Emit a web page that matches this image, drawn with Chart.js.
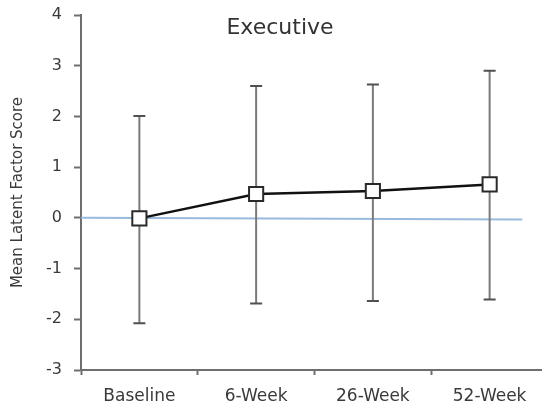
<!DOCTYPE html>
<html>
<head>
<meta charset="utf-8">
<title>Executive</title>
<script src="https://cdn.jsdelivr.net/npm/chart.js@4"></script>
<style>
  html, body { margin: 0; padding: 0; background: #ffffff; overflow: hidden; }
  #wrap { width: 560px; height: 407px; }
</style>
</head>
<body>
<div id="wrap"><canvas id="chart" width="560" height="407"></canvas></div>
<script>
// Assessment time points
const categories = ['Baseline', '6-Week', '26-Week', '52-Week'];
// Mean latent factor score at each time point
const means = [-0.01, 0.47, 0.53, 0.66];
// Upper and lower ends of the error bars
const upper = [2.01, 2.60, 2.63, 2.90];
const lower = [-2.08, -1.69, -1.64, -1.61];
// Zero reference line (x in category units on the helper axis)
const refX = [-0.5, 3.28];
const refY = [0, -0.03];
// Y axis range
const yMin = -3;
const yMax = 4;

const FONT = "'DejaVu Sans', Verdana, sans-serif";
const AXIS_GREY = '#6e6e6e';

// Error bars drawn right after the reference line so the series sits on top
const errorBars = {
  id: 'errorBars',
  afterDatasetDraw(chart, args) {
    if (args.index !== 1) return;
    const x = chart.scales.x, y = chart.scales.y;
    const ctx = chart.ctx;
    ctx.save();
    ctx.lineCap = 'butt';
    for (let i = 0; i < categories.length; i++) {
      const px = x.getPixelForValue(i);
      const top = y.getPixelForValue(upper[i]);
      const bot = y.getPixelForValue(lower[i]);
      ctx.strokeStyle = '#7a7a7a';
      ctx.lineWidth = 2;
      ctx.beginPath();
      ctx.moveTo(px, top);
      ctx.lineTo(px, bot);
      ctx.stroke();
      ctx.strokeStyle = '#505050';
      ctx.lineWidth = 2;
      ctx.beginPath();
      ctx.moveTo(px - 6, top);
      ctx.lineTo(px + 6, top);
      ctx.moveTo(px - 6, bot);
      ctx.lineTo(px + 6, bot);
      ctx.stroke();
    }
    ctx.restore();
  }
};

// Panel heading inside the plot area
const panelTitle = {
  id: 'panelTitle',
  afterDraw(chart) {
    const ctx = chart.ctx;
    ctx.save();
    ctx.font = "22px " + FONT;
    ctx.fillStyle = '#333333';
    ctx.textAlign = 'center';
    ctx.textBaseline = 'middle';
    ctx.fillText('Executive', chart.width / 2, chart.chartArea.top + 13);
    ctx.restore();
  }
};

new Chart(document.getElementById('chart'), {
  type: 'line',
  data: {
    labels: categories,
    datasets: [
      {
        label: 'Mean',
        data: means,
        xAxisID: 'x',
        borderColor: '#111111',
        borderWidth: 2.5,
        pointStyle: 'rect',
        pointRadius: 10,
        pointBackgroundColor: '#ffffff',
        pointBorderColor: '#2a2a2a',
        pointBorderWidth: 2,
        tension: 0,
        clip: false
      },
      {
        label: 'Reference',
        data: refX.map((v, i) => ({ x: v, y: refY[i] })),
        xAxisID: 'xr',
        borderColor: '#98badf',
        borderWidth: 2,
        pointRadius: 0,
        tension: 0
      }
    ]
  },
  options: {
    responsive: false,
    animation: false,
    devicePixelRatio: 1,
    layout: { padding: { top: 15, right: 11, bottom: 0, left: 0 } },
    plugins: {
      legend: { display: false },
      tooltip: { enabled: false },
      title: { display: false }
    },
    scales: {
      x: {
        type: 'category',
        offset: true,
        grid: {
          offset: true,
          drawOnChartArea: false,
          drawTicks: true,
          tickLength: 5,
          tickWidth: 2,
          tickColor: AXIS_GREY
        },
        border: { display: true, color: AXIS_GREY, width: 2 },
        ticks: {
          color: '#3a3a3a',
          padding: 11,
          maxRotation: 0,
          font: { family: FONT, size: 17 }
        },
        afterFit(scale) { scale.height = 37; }
      },
      xr: {
        type: 'linear',
        display: false,
        min: -0.5,
        max: 3.5
      },
      y: {
        min: yMin,
        max: yMax,
        ticks: {
          stepSize: 1,
          color: '#3a3a3a',
          padding: 12,
          font: { family: FONT, size: 16 }
        },
        grid: {
          drawOnChartArea: false,
          drawTicks: true,
          tickLength: 7,
          tickWidth: 2,
          tickColor: AXIS_GREY
        },
        border: { display: true, color: AXIS_GREY, width: 2 },
        title: {
          display: true,
          text: 'Mean Latent Factor Score',
          color: '#3a3a3a',
          font: { family: FONT, size: 15 },
          padding: { top: 9, bottom: 0 }
        },
        afterFit(scale) {
          scale.width = 81;
          scale.paddingTop = 0;
          scale.paddingBottom = 0;
        }
      }
    }
  },
  plugins: [errorBars, panelTitle]
});
</script>
</body>
</html>
